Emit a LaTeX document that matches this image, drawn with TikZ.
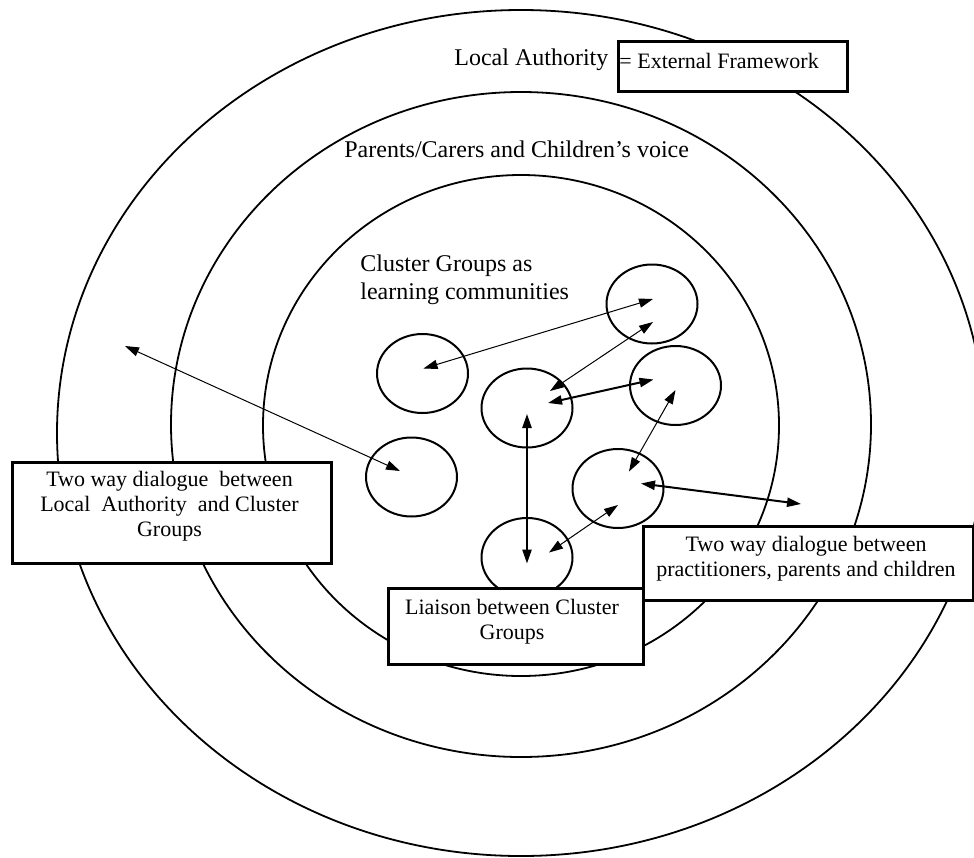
\documentclass[tikz,border=0pt]{standalone}
\usepackage{fontspec}
\setmainfont{Liberation Serif}
\usetikzlibrary{arrows.meta,shapes.geometric,calc}

\begin{document}
\begin{tikzpicture}[x=0.5pt,y=-0.5pt,
  ring/.style={line width=0.9pt},
  cluster/.style={draw,ellipse,line width=1pt,minimum width=45.5pt,minimum height=39.5pt,inner sep=0pt},
  link/.style={{Triangle[length=7pt,width=4.6pt]}-{Triangle[length=7pt,width=4.6pt]},line width=0.5pt},
  boldlink/.style={link,line width=1pt},
  framebox/.style={draw,fill=white,line width=1.5pt,inner sep=0pt,anchor=north west},
  label/.style={inner sep=0pt,font=\fontsize{12}{14}\selectfont},
  boxtext/.style={inner sep=0pt,anchor=base,font=\fontsize{11}{12.65}\selectfont}]

\path[use as bounding box] (0,0) rectangle (974,857);
\begin{scope}
\clip (0,0) rectangle (974,857);

% three nested rings
\draw[ring] (521,433) ellipse [x radius=232pt, y radius=211.5pt];
\draw[ring] (521,424.5) ellipse [x radius=175pt, y radius=166.25pt];
\draw[ring] (521,425.5) ellipse [x radius=129pt, y radius=125.25pt];

% ring captions
\node[label,anchor=base west] (la) at (454,65) {Local Authority};
\node[label,anchor=base west] (pc) at (344,157) {Parents/Carers and Children’s voice};
\node[label,anchor=base west] (cg1) at (360,271) {Cluster Groups as};
\node[label,anchor=base west] (cg2) at (360,299) {learning communities};

% cluster groups
\node[cluster] (c1) at (422.5,373.5) {};
\node[cluster] (c2) at (652,304) {};
\node[cluster] (c3) at (527,408) {};
\node[cluster] (c4) at (675.5,385.5) {};
\node[cluster] (c5) at (411.5,477) {};
\node[cluster] (c6) at (618,488.5) {};
\node[cluster] (c7) at (527,557.5) {};

\coordinate (outL) at (125,346);
\coordinate (outR) at (801,504);

% dialogue arrows
\draw[link] ($(c1)+(1,-5)$) -- ($(c2)+(1,-5)$);
\draw[link] ($(c3)+(23,-17)$) -- ($(c2)+(1,18)$);
\draw[boldlink] ($(c3)+(21,-5)$) -- ($(c4)+(-22,-6)$);
\draw[boldlink] ($(c3)+(0,6)$) -- ($(c7)+(0,6)$);
\draw[link] ($(c4)+(0,4.5)$) -- ($(c6)+(11,-17)$);
\draw[link] ($(c6)+(0,16.5)$) -- ($(c7)+(22,-5)$);
\draw[boldlink] ($(c6)+(23,-5)$) -- (outR);
\draw[link] ($(c5)+(-11.5,-6)$) -- (outL);

% framed captions
\node[framebox,minimum width=114.5pt,minimum height=25pt] (ext) at (617,40) {};
\node[boxtext,anchor=base west] (extT) at (619,68) {= External Framework};

\node[framebox,minimum width=159.5pt,minimum height=50.5pt] (lbox) at (11,461) {};
\node[boxtext] (l1) at (169.5,486) {Two way dialogue~ between};
\node[boxtext] (l2) at (169.5,511.5) {Local~ Authority~ and Cluster};
\node[boxtext] (l3) at (169.5,536.5) {Groups};

\node[framebox,minimum width=165pt,minimum height=37pt] (rbox) at (642,525) {};
\node[boxtext] (r1) at (806,551) {Two way dialogue between};
\node[boxtext] (r2) at (806,576.5) {practitioners, parents and children};

\node[framebox,minimum width=127.5pt,minimum height=38pt] (libox) at (387,587) {};
\node[boxtext] (li1) at (512,614) {Liaison between Cluster};
\node[boxtext] (li2) at (512,639.5) {Groups};
\end{scope}
\end{tikzpicture}
\end{document}
